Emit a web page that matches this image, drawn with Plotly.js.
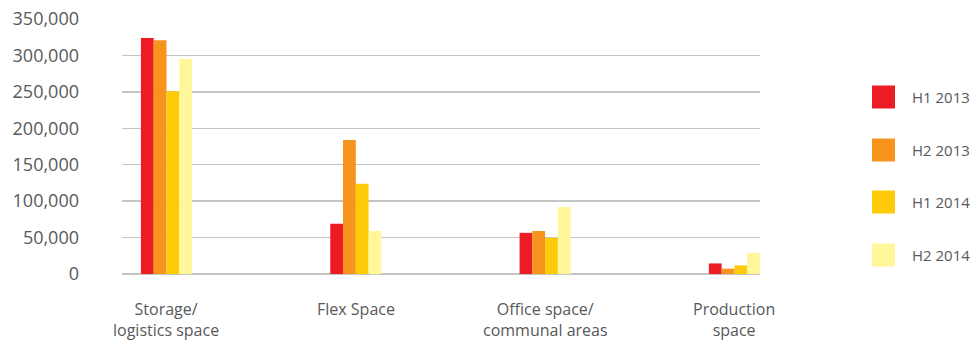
<!DOCTYPE html>
<html><head><meta charset="utf-8">
<script src="https://cdn.plot.ly/plotly-3.0.1.min.js"></script>
<style>html,body{margin:0;padding:0;background:#fff}#c{width:973px;height:340px}</style>
</head><body><div id="c"></div>
<script>
const categories = ["Storage/<br>logistics space", "Flex Space", "Office space/<br>communal areas", "Production<br>space"];
const seriesNames = ["H1 2013", "H2 2013", "H1 2014", "H2 2014"];
const h1_2013 = [324000, 69000, 56500, 14500];
const h2_2013 = [321000, 184000, 59000, 7300];
const h1_2014 = [251000, 124000, 49500, 11800];
const h2_2014 = [295000, 59000, 92000, 29000];
const colors = ["#ED1C24", "#F7941D", "#FFCB08", "#FFF799"];
const values = [h1_2013, h2_2013, h1_2014, h2_2014];

const W = 973, H = 340, ml = 122, mr = 213, mt = 19, mb = 66;
const pw = W - ml - mr, ph = H - mt - mb;
const px2x = p => (p - ml) / pw;
const px2y = p => (H - mb - p) / ph;
const textColor = "#58595B";

const traces = seriesNames.map((n, i) => ({
  type: "bar", name: n, x: [0,1,2,3], y: values[i],
  marker: {color: colors[i], line: {width: 0}}, showlegend: false, hoverinfo: "y"
}));

const shapes = [], annotations = [];
const legendY = [97, 150, 202, 255];
seriesNames.forEach((n, i) => {
  shapes.push({type: "rect", xref: "paper", yref: "paper",
    x0: px2x(872), x1: px2x(895), y0: px2y(legendY[i] + 11.5), y1: px2y(legendY[i] - 11.5),
    fillcolor: colors[i], line: {width: 0}});
  annotations.push({xref: "paper", yref: "paper", x: px2x(910), y: px2y(legendY[i]),
    xanchor: "left", yanchor: "middle", text: n, showarrow: false,
    font: {family: "Open Sans", size: 15, color: textColor}});
});

categories.forEach((c, i) => {
  annotations.push({xref: "x", yref: "paper", x: i, y: px2y(297),
    xanchor: "center", yanchor: "top", text: c, showarrow: false, borderpad: 0,
    font: {family: "Open Sans", size: 16, color: textColor}});
});

const layout = {
  width: W, height: H, margin: {l: ml, r: mr, t: mt, b: mb, pad: 0},
  paper_bgcolor: "#fff", plot_bgcolor: "#fff",
  barmode: "group", bargap: 0.73, bargroupgap: 0,
  font: {family: "Open Sans", color: textColor},
  xaxis: {range: [-0.235, 3.135], tickvals: [0,1,2,3], showticklabels: false,
    showgrid: false, zeroline: false, showline: false, ticks: ""},
  yaxis: {range: [0, 350000], dtick: 50000, tickformat: ",d",
    showgrid: true, gridcolor: "#C4C4C4", gridwidth: 1.4,
    zeroline: true, zerolinecolor: "#C4C4C4", zerolinewidth: 1.4,
    showline: false, ticks: "", ticklabelstandoff: 42,
    tickfont: {size: 18, color: textColor}},
  shapes: shapes, annotations: annotations
};
Plotly.newPlot("c", traces, layout, {displayModeBar: false, staticPlot: true});
</script></body></html>
